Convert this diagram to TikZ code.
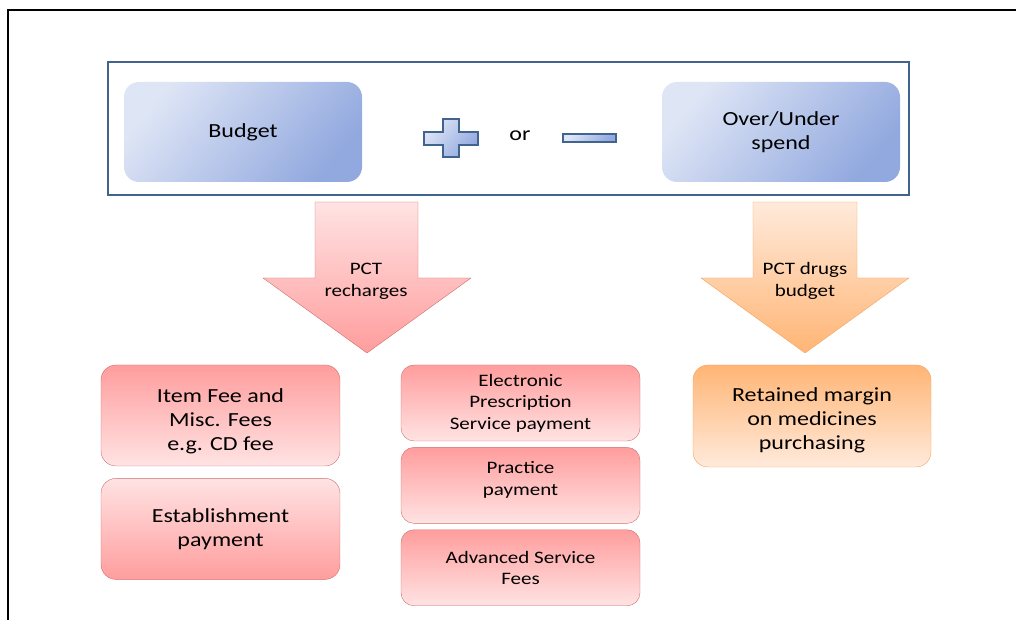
\documentclass[tikz,border=0pt]{standalone}
\usepackage{fontspec}
\setmainfont{Carlito}[FakeStretch=1.2]
\usetikzlibrary{positioning}

\definecolor{frameblue}{HTML}{41648F}
\definecolor{bluelight}{HTML}{DEE5F5}
\definecolor{bluedark}{HTML}{92A9DF}
\definecolor{redlight}{HTML}{FFE3E3}
\definecolor{reddark}{HTML}{FF9D9D}
\definecolor{redline}{HTML}{CF6E6C}
\definecolor{orangelight}{HTML}{FFEADB}
\definecolor{orangedark}{HTML}{FFB575}
\definecolor{orangeline}{HTML}{F4A35A}

\begin{document}
\begin{tikzpicture}[x=1pt, y=1pt, semithick,
    bluebox/.style={rounded corners=15pt, left color=bluelight, right color=bluedark, shading angle=50,
                    minimum width=238, minimum height=100, align=center, font=\fontsize{20}{24}\selectfont},
    signbox/.style={draw=frameblue, line width=1.6pt, left color=bluelight, right color=bluedark, shading angle=50},
    downbox/.style={rounded corners=15pt, draw=redline, thin, top color=redlight, bottom color=reddark,
                    minimum width=239, minimum height=101, align=center, font=\fontsize{20}{24}\selectfont},
    upbox/.style={downbox, top color=reddark, bottom color=redlight},
    smallbox/.style={upbox, rounded corners=13pt, minimum height=76, font=\fontsize{17.5}{21.5}\selectfont},
    bigarrow/.style={draw=#1line, thin, top color=#1light, bottom color=#1dark},
    arrowtext/.style={align=center, font=\fontsize{17.5}{22}\selectfont}]

    \useasboundingbox (0,0) rectangle (1016,620);
    \draw[line width=1.5pt] (8,0) -- (8,610) -- (1016,610);

    % top panel
    \node[draw=frameblue, line width=2.2pt, minimum width=801, minimum height=133] (panel) at (508.5,491.5) {};
    \node[bluebox] (budget) at (243,488) {Budget};
    \node[bluebox] (overunder) at (781,488) {Over/Under\\spend};
    \shade[signbox] (443,501) -- (459,501) -- (459,488) -- (478,488) -- (478,475) -- (459,475)
          -- (459,463) -- (443,463) -- (443,475) -- (424,475) -- (424,488) -- (443,488) -- cycle;
    \node[font=\fontsize{20}{24}\selectfont] (or) at (520,484) {or};
    \shade[signbox] (563,486) rectangle (616,478);

    % block arrows
    \shade[bigarrow=red] (315,418) -- (418,418) -- (418,342) -- (471,342) -- (367,267) -- (263,342) -- (315,342) -- cycle;
    \node[arrowtext] (recharges) at (366,340) {\rule{0pt}{15pt}PCT\\recharges};
    \shade[bigarrow=orange] (753,418) -- (857,418) -- (857,342) -- (909,342) -- (805,267) -- (701,342) -- (753,342) -- cycle;
    \node[arrowtext] (drugs) at (805,340) {\rule{0pt}{15pt}PCT drugs\\budget};

    % fee boxes
    \node[upbox] (itemfee) at (220.5,204.5) {\rule{0pt}{25pt}Item Fee and\\Misc. Fees\\e.g. CD fee};
    \node[downbox] (estab) [below=12 of itemfee] {Establishment\\payment};
    \node[smallbox] (eps) at (520.5,217) {Electronic\\Prescription\\Service payment};
    \node[smallbox] (practice) [below=6 of eps] {Practice\\payment\rule[-14pt]{0pt}{0pt}};
    \node[smallbox] (advanced) [below=6 of practice] {Advanced Service\\Fees};
    \node[upbox, draw=orangeline, top color=orangedark, bottom color=orangelight, minimum width=238, minimum height=102]
          (retained) at (812,204) {\rule{0pt}{22pt}Retained margin\\on medicines\\purchasing};

\end{tikzpicture}
\end{document}
